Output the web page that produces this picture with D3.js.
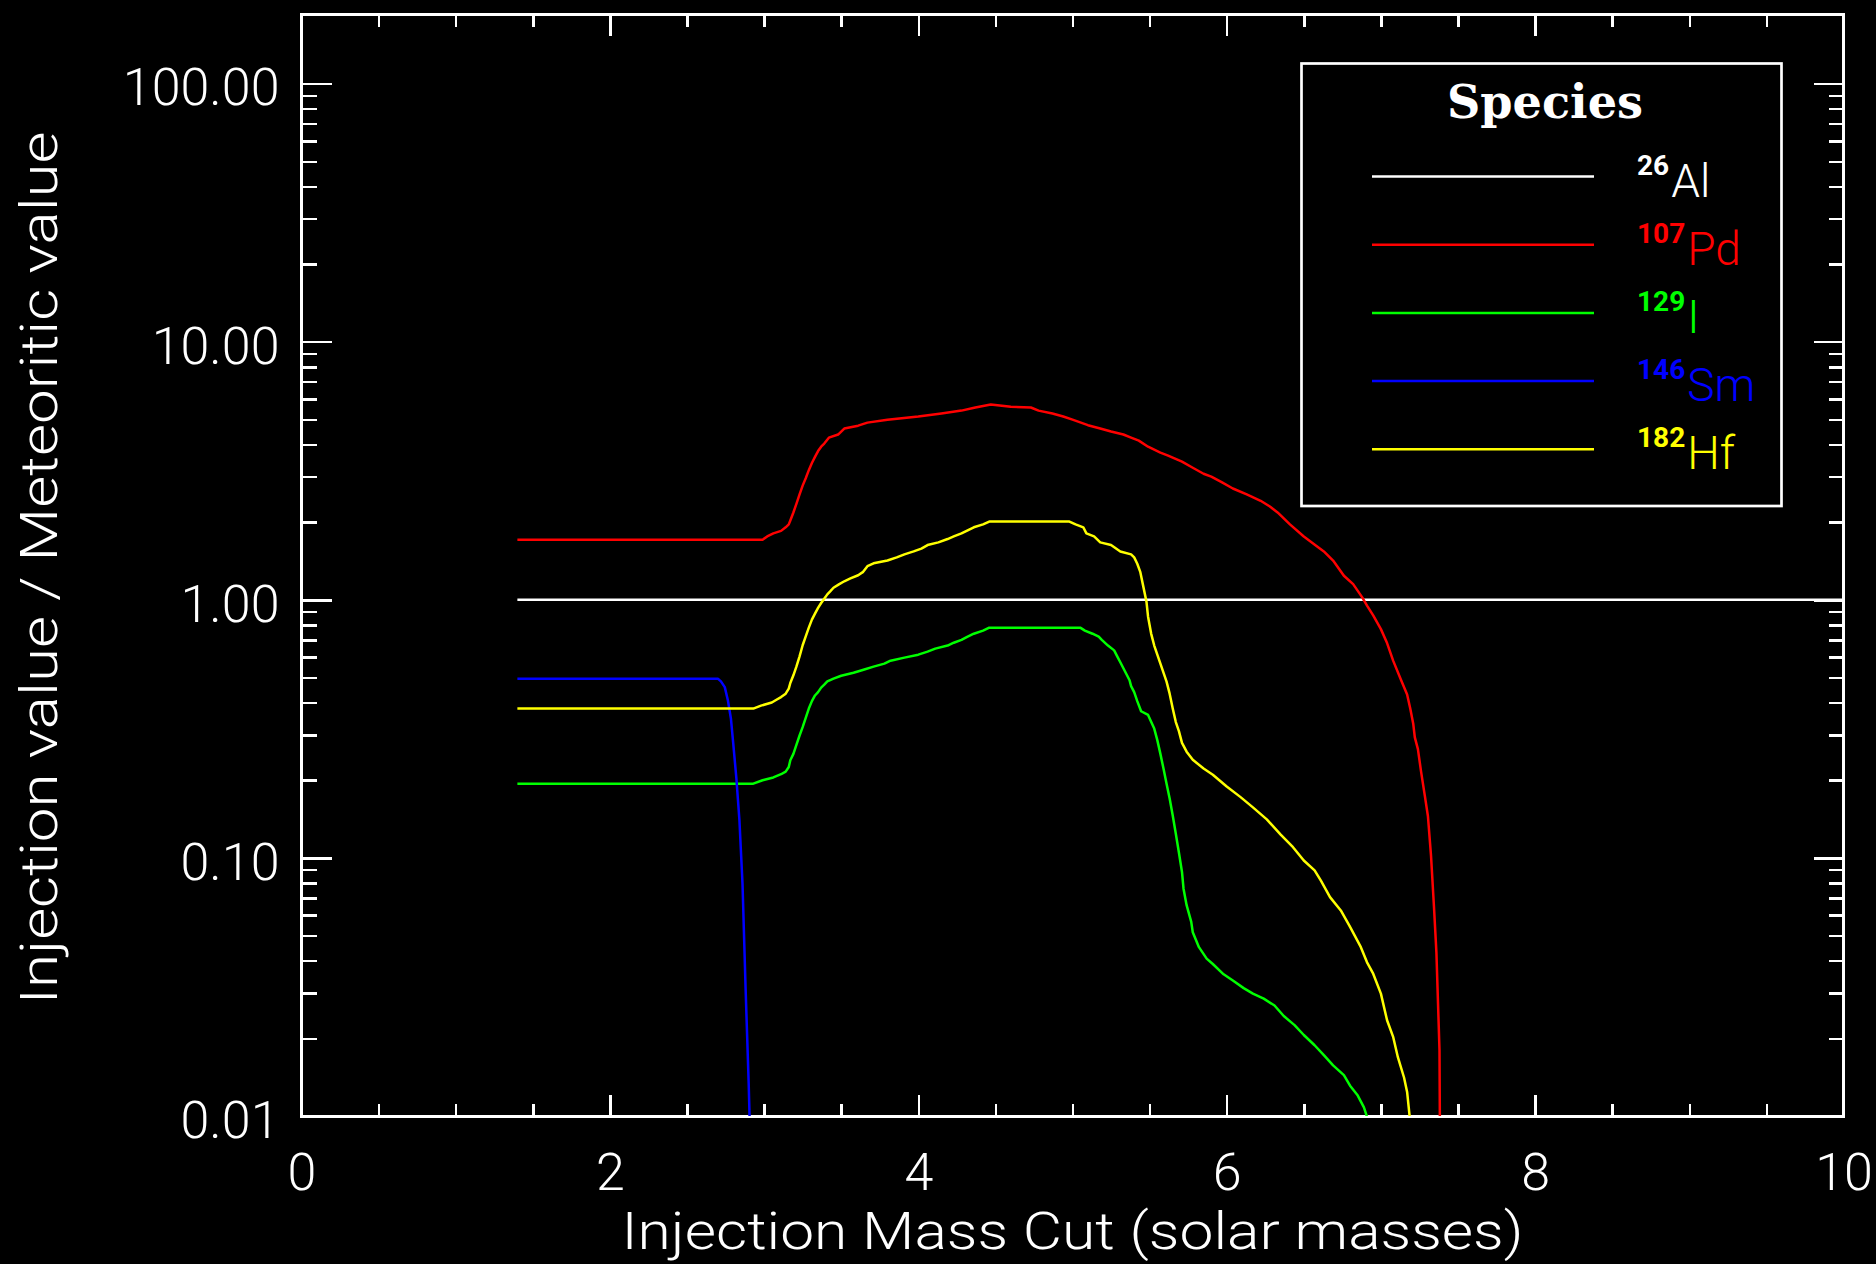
<!DOCTYPE html>
<meta charset="utf-8">
<body style="margin:0;background:#000">
<div id="chart"></div>
<script src="https://d3js.org/d3.v7.min.js"></script>
<script>
// values: [injection mass cut, injection value / meteoritic value]
var al26 = [[1.4, 1], [10, 1]];

var pd107 = [[1.4, 1.71], [2.99, 1.71], [3.02, 1.76], [3.06, 1.81], [3.11, 1.85], [3.14, 1.91],
  [3.16, 1.96], [3.17, 2.03], [3.19, 2.18], [3.21, 2.36], [3.23, 2.56], [3.25, 2.77], [3.27, 2.96],
  [3.29, 3.18], [3.31, 3.39], [3.33, 3.58], [3.35, 3.77], [3.37, 3.92], [3.39, 4.03], [3.42, 4.25],
  [3.48, 4.37], [3.52, 4.61], [3.61, 4.73], [3.67, 4.86], [3.80, 4.99], [4.00, 5.13], [4.15, 5.27],
  [4.28, 5.41], [4.37, 5.56], [4.47, 5.71], [4.60, 5.60], [4.73, 5.56], [4.78, 5.41], [4.87, 5.27],
  [4.94, 5.13], [5.00, 4.99], [5.10, 4.75], [5.18, 4.61], [5.25, 4.49], [5.33, 4.37], [5.38, 4.25],
  [5.43, 4.14], [5.49, 3.92], [5.57, 3.72], [5.62, 3.62], [5.71, 3.43], [5.78, 3.25], [5.85, 3.08],
  [5.90, 3.00], [5.97, 2.85], [6.04, 2.70], [6.13, 2.56], [6.22, 2.42], [6.28, 2.30], [6.33, 2.18],
  [6.41, 1.96], [6.50, 1.76], [6.58, 1.62], [6.63, 1.54], [6.69, 1.42], [6.76, 1.24], [6.82, 1.15],
  [6.88, 1.02], [6.91, 0.95], [6.95, 0.87], [7.00, 0.77], [7.04, 0.68], [7.08, 0.58], [7.13, 0.49],
  [7.17, 0.43], [7.19, 0.38], [7.21, 0.33], [7.22, 0.293], [7.24, 0.264], [7.26, 0.217], [7.285, 0.174],
  [7.305, 0.145], [7.325, 0.102], [7.344, 0.065], [7.36, 0.043], [7.38, 0.018], [7.385, 0.005]];

var i129 = [[1.4, 0.194], [2.93, 0.194], [2.99, 0.20], [3.06, 0.205], [3.11, 0.211], [3.14, 0.216],
  [3.16, 0.225], [3.17, 0.239], [3.19, 0.253], [3.21, 0.275], [3.23, 0.298], [3.25, 0.321], [3.27, 0.349],
  [3.29, 0.379], [3.31, 0.405], [3.33, 0.426], [3.35, 0.439], [3.37, 0.457], [3.39, 0.469], [3.41, 0.483],
  [3.45, 0.495], [3.50, 0.508], [3.58, 0.522], [3.65, 0.537], [3.71, 0.551], [3.78, 0.566], [3.82, 0.581],
  [3.91, 0.597], [4.00, 0.613], [4.06, 0.63], [4.11, 0.647], [4.19, 0.665], [4.23, 0.682], [4.28, 0.70],
  [4.32, 0.72], [4.36, 0.739], [4.42, 0.76], [4.46, 0.78], [5.05, 0.78], [5.08, 0.76], [5.13, 0.739],
  [5.17, 0.72], [5.19, 0.70], [5.23, 0.665], [5.27, 0.637], [5.29, 0.604], [5.31, 0.573], [5.33, 0.543],
  [5.35, 0.515], [5.37, 0.488], [5.38, 0.463], [5.40, 0.439], [5.42, 0.405], [5.445, 0.37], [5.49, 0.358],
  [5.53, 0.317], [5.55, 0.286], [5.57, 0.253], [5.59, 0.222], [5.61, 0.194], [5.63, 0.170], [5.65, 0.146],
  [5.67, 0.124], [5.69, 0.105], [5.71, 0.0882], [5.72, 0.076], [5.74, 0.0656], [5.77, 0.0565], [5.78, 0.0515],
  [5.82, 0.0451], [5.87, 0.0407], [5.91, 0.0388], [5.98, 0.0354], [6.04, 0.0335], [6.11, 0.0313],
  [6.17, 0.0298], [6.24, 0.0285], [6.31, 0.0268], [6.37, 0.0244], [6.44, 0.0225], [6.50, 0.0206],
  [6.57, 0.0188], [6.63, 0.0172], [6.69, 0.0157], [6.76, 0.0144], [6.80, 0.0131], [6.85, 0.012],
  [6.89, 0.0108], [6.92, 0.0095]];

var sm146 = [[1.4, 0.495], [2.70, 0.495], [2.72, 0.483], [2.745, 0.459], [2.765, 0.408], [2.785, 0.346],
  [2.80, 0.277], [2.82, 0.204], [2.84, 0.140], [2.86, 0.0794], [2.88, 0.0312], [2.90, 0.0134], [2.91, 0.008]];

var hf182 = [[1.4, 0.379], [2.93, 0.379], [2.98, 0.389], [3.05, 0.40], [3.08, 0.41], [3.11, 0.42],
  [3.14, 0.433], [3.16, 0.453], [3.17, 0.476], [3.19, 0.51], [3.21, 0.552], [3.23, 0.604], [3.25, 0.667],
  [3.27, 0.722], [3.29, 0.78], [3.31, 0.838], [3.33, 0.884], [3.35, 0.93], [3.37, 0.972], [3.39, 1.01],
  [3.41, 1.05], [3.43, 1.08], [3.45, 1.114], [3.485, 1.148], [3.52, 1.18], [3.56, 1.21], [3.61, 1.245],
  [3.64, 1.28], [3.67, 1.35], [3.71, 1.385], [3.80, 1.42], [3.86, 1.46], [3.91, 1.50], [3.97, 1.54],
  [4.02, 1.58], [4.06, 1.63], [4.13, 1.67], [4.19, 1.72], [4.23, 1.76], [4.28, 1.81], [4.32, 1.86],
  [4.36, 1.91], [4.42, 1.96], [4.46, 2.01], [4.98, 2.01], [5.02, 1.96], [5.07, 1.91], [5.09, 1.81],
  [5.14, 1.76], [5.18, 1.67], [5.25, 1.63], [5.31, 1.54], [5.38, 1.50], [5.40, 1.46], [5.42, 1.38],
  [5.44, 1.28], [5.46, 1.12], [5.48, 0.98], [5.49, 0.86], [5.51, 0.74], [5.53, 0.665], [5.55, 0.613],
  [5.57, 0.566], [5.59, 0.522], [5.61, 0.482], [5.63, 0.433], [5.65, 0.379], [5.67, 0.336], [5.69, 0.31],
  [5.71, 0.279], [5.74, 0.258], [5.78, 0.24], [5.85, 0.222], [5.91, 0.21], [6.00, 0.189], [6.09, 0.172],
  [6.17, 0.157], [6.26, 0.141], [6.35, 0.123], [6.43, 0.110], [6.50, 0.0977], [6.57, 0.0895],
  [6.61, 0.0818], [6.67, 0.0705], [6.74, 0.0626], [6.80, 0.054], [6.87, 0.0451], [6.91, 0.0394],
  [6.95, 0.0356], [7.00, 0.0298], [7.04, 0.0235], [7.08, 0.0202], [7.11, 0.0169], [7.15, 0.0141],
  [7.17, 0.0124], [7.19, 0.0095]];

var species = ["Al", "Pd", "I", "Sm", "Hf"];
var masses = ["26", "107", "129", "146", "182"];
var seriesList = [al26, pd107, i129, sm146, hf182];
var colors = ["#ffffff", "#ff0000", "#00ff00", "#0000ff", "#ffff00"];

var xTicks = [0, 2, 4, 6, 8, 10];
var xMinor = [0.5, 1, 1.5, 2.5, 3, 3.5, 4.5, 5, 5.5, 6.5, 7, 7.5, 8.5, 9, 9.5];
var yTicks = [0.01, 0.1, 1, 10, 100];
var yMinor = [0.02, 0.03, 0.04, 0.05, 0.06, 0.07, 0.08, 0.09,
  0.2, 0.3, 0.4, 0.5, 0.6, 0.7, 0.8, 0.9,
  2, 3, 4, 5, 6, 7, 8, 9,
  20, 30, 40, 50, 60, 70, 80, 90];

var W = 1876, H = 1264;
var plotL = 301.5, plotR = 1843.5, plotT = 14.7, plotB = 1116;
var FONT = "Roboto, 'DejaVu Sans', sans-serif";

var svg = d3.select("#chart").append("svg")
  .attr("width", W)
  .attr("height", H)
  .style("display", "block");

svg.append("rect").attr("width", W).attr("height", H).attr("fill", "#000");

var x = d3.scaleLinear().domain([0, 10]).range([plotL, plotR]);
var y = d3.scaleLog().domain([0.01, 185]).range([plotB, plotT]);

svg.append("clipPath").attr("id", "plotclip")
  .append("rect")
  .attr("x", plotL).attr("y", plotT)
  .attr("width", plotR - plotL).attr("height", plotB - plotT);

// axes: ticks point inward on all four sides, labels only bottom and left
function styleAxis(g) {
  g.select(".domain").remove();
  g.selectAll(".tick line").attr("stroke", "#fff").attr("stroke-width", 2.5)
    .style("shape-rendering", "crispEdges");
  g.selectAll("text").attr("fill", "#fff")
    .style("font-family", FONT).style("font-weight", 300).style("font-size", "52px");
}

svg.append("g").attr("transform", "translate(0," + plotB + ")")
  .call(d3.axisBottom(x).tickValues(xTicks).tickSize(-21).tickFormat(d3.format("d")))
  .call(styleAxis)
  .selectAll("text").attr("y", 74).attr("dy", null);
svg.append("g").attr("transform", "translate(0," + plotB + ")")
  .call(d3.axisBottom(x).tickValues(xMinor).tickSize(-12).tickFormat(""))
  .call(styleAxis);
svg.append("g").attr("transform", "translate(0," + plotT + ")")
  .call(d3.axisTop(x).tickValues(xTicks).tickSize(-21).tickFormat(""))
  .call(styleAxis);
svg.append("g").attr("transform", "translate(0," + plotT + ")")
  .call(d3.axisTop(x).tickValues(xMinor).tickSize(-12).tickFormat(""))
  .call(styleAxis);

svg.append("g").attr("transform", "translate(" + plotL + ",0)")
  .call(d3.axisLeft(y).tickValues(yTicks).tickSize(-30).tickPadding(22).tickFormat(d3.format(".2f")))
  .call(styleAxis)
  .selectAll("text").attr("dy", "0.41em");
svg.append("g").attr("transform", "translate(" + plotL + ",0)")
  .call(d3.axisLeft(y).tickValues(yMinor).tickSize(-15).tickFormat(""))
  .call(styleAxis);
svg.append("g").attr("transform", "translate(" + plotR + ",0)")
  .call(d3.axisRight(y).tickValues(yTicks).tickSize(-30).tickFormat(""))
  .call(styleAxis);
svg.append("g").attr("transform", "translate(" + plotR + ",0)")
  .call(d3.axisRight(y).tickValues(yMinor).tickSize(-15).tickFormat(""))
  .call(styleAxis);

// frame
svg.append("rect")
  .attr("x", plotL).attr("y", plotT)
  .attr("width", plotR - plotL).attr("height", plotB - plotT)
  .attr("fill", "none").attr("stroke", "#fff").attr("stroke-width", 3)
  .style("shape-rendering", "crispEdges");

// curves
var line = d3.line()
  .x(function (d) { return x(d[0]); })
  .y(function (d) { return y(d[1]); });

svg.append("g").attr("clip-path", "url(#plotclip)")
  .selectAll("path")
  .data(seriesList)
  .enter()
  .append("path")
  .attr("d", line)
  .attr("fill", "none")
  .attr("stroke", function (d, i) { return colors[i]; })
  .attr("stroke-width", 2.5)
  .attr("stroke-linejoin", "round");

// axis titles
svg.append("text")
  .attr("x", (plotL + plotR) / 2)
  .attr("y", 1249)
  .attr("text-anchor", "middle")
  .attr("textLength", 902)
  .attr("lengthAdjust", "spacingAndGlyphs")
  .attr("fill", "#fff")
  .style("font-family", FONT).style("font-weight", 300).style("font-size", "52px")
  .text("Injection Mass Cut (solar masses)");

svg.append("text")
  .attr("transform", "translate(57,568) rotate(-90)")
  .attr("text-anchor", "middle")
  .attr("textLength", 873)
  .attr("lengthAdjust", "spacingAndGlyphs")
  .attr("fill", "#fff")
  .style("font-family", FONT).style("font-weight", 300).style("font-size", "52px")
  .text("Injection value / Meteoritic value");

// legend
var legend = svg.append("g");
legend.append("rect")
  .attr("x", 1301.5).attr("y", 63.5)
  .attr("width", 480).attr("height", 442.5)
  .attr("fill", "#000").attr("stroke", "#fff").attr("stroke-width", 2.7);

legend.append("text")
  .attr("x", 1545).attr("y", 118)
  .attr("text-anchor", "middle")
  .attr("textLength", 196)
  .attr("lengthAdjust", "spacingAndGlyphs")
  .attr("fill", "#fff")
  .style("font-family", "'DejaVu Serif', serif").style("font-weight", "bold").style("font-size", "47px")
  .text("Species");

var rowY = d3.scaleLinear().domain([0, 4]).range([176.5, 449.3]);

var items = legend.selectAll(".item")
  .data(species)
  .enter()
  .append("g")
  .attr("class", "item");

items.append("line")
  .attr("x1", 1372).attr("x2", 1594)
  .attr("y1", function (d, i) { return rowY(i); })
  .attr("y2", function (d, i) { return rowY(i); })
  .attr("stroke", function (d, i) { return colors[i]; })
  .attr("stroke-width", 2.5);

var lab = items.append("text")
  .attr("x", 1637)
  .attr("y", function (d, i) { return rowY(i) - 2; })
  .attr("fill", function (d, i) { return colors[i]; })
  .style("font-family", FONT);

lab.append("tspan")
  .style("font-size", "28px").style("font-weight", "bold")
  .text(function (d, i) { return masses[i]; });
lab.append("tspan")
  .attr("dx", 2).attr("dy", 22)
  .style("font-size", "46px").style("font-weight", 300)
  .text(function (d) { return d; });
</script>
</body>
